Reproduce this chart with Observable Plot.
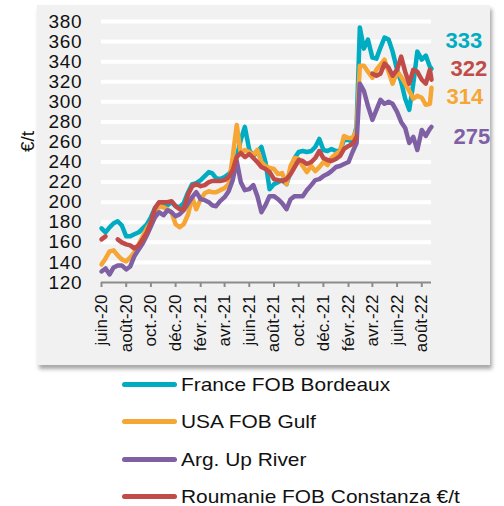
<!DOCTYPE html>
<html><head><meta charset="utf-8">
<script src="https://cdn.jsdelivr.net/npm/d3@7"></script>
<script src="https://cdn.jsdelivr.net/npm/@observablehq/plot@0.6"></script>
<style>
body{margin:0;background:#fff;font-family:"Liberation Sans",Arial,sans-serif;}
#wrap{position:relative;width:504px;height:506px;overflow:hidden}
#box{position:absolute;left:37px;top:5px;width:453px;height:360px;background:#f1f1f1;box-shadow:2px 4px 4px rgba(0,0,0,0.35);}
#chart{position:absolute;left:0;top:0}
.row{position:absolute;left:0;width:504px;height:19px;}
.sw{position:absolute;left:122px;top:7px;width:55px;height:5px;border-radius:3px}
.lb{position:absolute;left:181px;top:0;font-size:19px;line-height:19px;white-space:nowrap;transform:scaleX(1.1);transform-origin:left center;color:#111}
svg [aria-label="y-axis tick label"] text{letter-spacing:0.8px}
</style></head>
<body>
<div id="wrap"><div id="box"></div><div id="chart"></div><div id="legend"></div></div>
<script>
const dates = [
 "2020-06-01","2020-06-11","2020-06-21","2020-07-01","2020-07-11","2020-07-21","2020-08-01","2020-08-11","2020-08-21",
 "2020-09-01","2020-09-11","2020-09-21","2020-10-01","2020-10-11","2020-10-21","2020-11-01","2020-11-11","2020-11-21",
 "2020-12-01","2020-12-11","2020-12-21",
 "2021-01-01","2021-01-11","2021-01-21","2021-02-01","2021-02-11","2021-02-21","2021-03-01","2021-03-11","2021-03-21",
 "2021-04-01","2021-04-11","2021-04-21","2021-05-01","2021-05-11","2021-05-21","2021-06-01","2021-06-11","2021-06-21",
 "2021-07-01","2021-07-11","2021-07-21","2021-08-01","2021-08-11","2021-08-21","2021-09-01","2021-09-11","2021-09-21",
 "2021-10-01","2021-10-11","2021-10-21","2021-11-01","2021-11-11","2021-11-21","2021-12-01","2021-12-11","2021-12-21",
 "2022-01-01","2022-01-11","2022-01-21","2022-02-01","2022-02-11","2022-02-21","2022-03-01","2022-03-11","2022-03-21",
 "2022-04-01","2022-04-11","2022-04-21","2022-05-01","2022-05-11","2022-05-21","2022-06-01","2022-06-11","2022-06-21",
 "2022-07-01","2022-07-11","2022-07-21","2022-08-01","2022-08-11","2022-08-21","2022-08-25"];

const france = [174,170,175,179,181,177,166,166,168,170,174,178,185,194,199,196,197,200,196,195,199,
 210,218,219,222,226,230,229,224,223,225,228,233,245,262,275,252,246,250,255,240,213,218,220,222,218,230,244,
 250,251,250,251,255,263,252,251,253,
 251,251,262,262,260,275,374,353,362,344,343,354,364,362,350,332,320,303,292,318,350,342,346,335,333];

const usa = [138,144,151,152,147,143,141,145,150,158,166,174,180,190,196,195,193,190,178,175,178,
 188,205,193,203,209,211,210,210,212,214,218,245,277,248,252,250,247,252,240,236,234,233,228,229,218,236,244,
 243,236,230,236,231,235,240,237,244,
 248,251,266,264,264,272,336,336,330,324,332,337,342,330,318,330,325,318,311,303,306,304,297,298,314];

const arg = [131,134,128,135,137,137,133,136,146,153,159,167,176,185,190,187,192,190,186,188,192,
 199,205,210,203,202,200,197,196,201,205,211,222,241,220,212,213,217,206,190,197,206,206,203,199,193,203,206,
 206,206,212,217,222,223,226,228,231,
 235,236,238,240,250,259,318,311,296,282,292,302,298,300,298,290,280,274,259,265,252,272,266,273,275];

const roumanie = [163,166,null,null,163,160,158,157,154,157,163,170,180,194,200,200,200,201,196,193,193,
 208,216,218,216,217,220,221,221,221,222,225,232,245,249,245,248,244,240,235,233,230,223,222,221,223,228,235,
 242,241,238,240,244,251,244,242,241,
 243,246,253,256,258,265,null,null,null,328,326,328,338,334,326,332,345,330,318,332,330,322,318,332,322];

const seriesNames = ["France FOB Bordeaux","USA FOB Gulf","Arg. Up River","Roumanie FOB Constanza €/t"];
const seriesColors = ["#00acc1","#f5a634","#8060a4","#c04b48"];
const endLabels = ["333","314","275","322"];
const yTicks = [120,140,160,180,200,220,240,260,280,300,320,340,360,380];
const xTickDates = ["2020-06-01","2020-08-01","2020-10-01","2020-12-01","2021-02-01","2021-04-01","2021-06-01",
 "2021-08-01","2021-10-01","2021-12-01","2022-02-01","2022-04-01","2022-06-01","2022-08-01"];
const xTickLabels = ["juin-20","août-20","oct.-20","déc.-20","févr.-21","avr.-21","juin-21",
 "août-21","oct.-21","déc.-21","févr.-22","avr.-22","juin-22","août-22"];

const parse = d3.utcParse("%Y-%m-%d");
const allValues = [france, usa, arg, roumanie];
const labelOffsets = [[14,-28],[15,9],[22,10],[19,-11]];
const tickMap = new Map(xTickDates.map((d,i)=>[+parse(d), xTickLabels[i]]));

const lineMarks = allValues.map((vals,k)=>Plot.line(
  dates.map((d,i)=>({date:parse(d), value:vals[i]})),
  {x:"date", y:"value", stroke:seriesColors[k], strokeWidth:4.5, strokeLinejoin:"round", strokeLinecap:"round"}));

const labelMarks = allValues.map((vals,k)=>Plot.text(
  [{date:parse(dates[dates.length-1]), value:vals[vals.length-1], label:endLabels[k]}],
  {x:"date", y:"value", text:"label", fill:seriesColors[k], fontWeight:"bold", fontSize:22,
   textAnchor:"start", dx:labelOffsets[k][0], dy:labelOffsets[k][1]}));

const chart = Plot.plot({
  width:504, height:372, marginTop:21, marginBottom:90, marginLeft:101, marginRight:73,
  style:{background:"transparent", fontFamily:"'Liberation Sans', Arial, sans-serif", color:"#111"},
  x:{type:"utc", domain:[parse("2020-06-01"), parse("2022-08-25")]},
  y:{domain:[120,380]},
  marks:[
    Plot.gridY(yTicks.slice(1), {stroke:"#fff", strokeOpacity:1, strokeWidth:4}),
    Plot.axisY(yTicks, {tickSize:0, tickPadding:19, fontSize:19, label:null}),
    Plot.ruleY([120], {stroke:"#8c8c8c", strokeWidth:2}),
    Plot.axisX(xTickDates.map(parse), {tickFormat:d=>tickMap.get(+d), tickRotate:-90, tickSize:5, tickPadding:7,
      fontSize:17, stroke:"#8c8c8c", strokeWidth:2, label:null}),
    ...lineMarks,
    ...labelMarks,
    Plot.text(["€/t"], {frameAnchor:"left", dx:-74, rotate:-90, fontSize:19, fill:"#111"})
  ]
});
document.getElementById("chart").appendChild(chart);

const legendCenters = [384, 421.5, 459.3, 496.7];
const legend = document.getElementById("legend");
seriesNames.forEach((name,k)=>{
  const row = document.createElement("div");
  row.className = "row";
  row.style.top = (legendCenters[k]-9.5)+"px";
  const sw = document.createElement("div");
  sw.className = "sw"; sw.style.background = seriesColors[k];
  const lb = document.createElement("div");
  lb.className = "lb"; lb.textContent = name;
  row.appendChild(sw); row.appendChild(lb);
  legend.appendChild(row);
});
</script>
</body></html>
